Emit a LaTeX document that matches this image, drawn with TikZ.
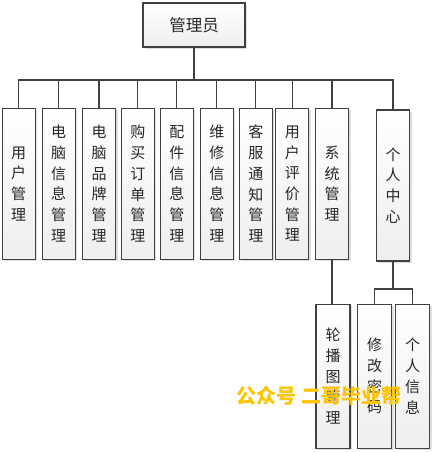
\documentclass[tikz,border=0pt]{standalone}
\usepackage{fontspec}
\setmainfont{Noto Sans CJK SC}
\usepackage{tikz}
\usetikzlibrary{calc, positioning, shadows}
\definecolor{boxLine}{HTML}{404040}
\definecolor{markGold}{HTML}{FFC400}

\begin{document}
\begin{tikzpicture}[
    x=1pt, y=-1pt,
    box/.style={draw=boxLine, line width=1.2pt, top color=white, bottom color=gray!13,
      drop shadow={shadow xshift=2pt, shadow yshift=-2pt, fill=gray!35, opacity=0.7},
      inner sep=0pt, align=center, font=\fontsize{15}{20.7}\selectfont, text=black!85},
    colbox/.style={box, minimum width=33pt, minimum height=151pt},
    subbox/.style={box, minimum width=34pt, minimum height=144pt},
    link/.style={draw=boxLine, line width=1.1pt}
  ]
    \useasboundingbox (0,0) rectangle (433,453);

    \node[box, minimum width=102pt, minimum height=44pt, font=\fontsize{16.5}{20}\selectfont] (admin) at (194,25) {管理员};

    % first level
    \node[colbox] (user)    at (18.7,183.7)  {用\\户\\管\\理};
    \node[colbox] (pc)      at (58.7,183.7)  {电\\脑\\信\\息\\管\\理};
    \node[colbox] (brand)   at (99,183.7)    {电\\脑\\品\\牌\\管\\理};
    \node[colbox] (order)   at (137.8,183.7) {购\\买\\订\\单\\管\\理};
    \node[colbox] (parts)   at (176.8,183.7) {配\\件\\信\\息\\管\\理};
    \node[colbox] (repair)  at (216.8,183.7) {维\\修\\信\\息\\管\\理};
    \node[colbox] (notice)  at (255.8,183.7) {客\\服\\通\\知\\管\\理};
    \node[colbox] (review)  at (292.3,183.7) {用\\户\\评\\价\\管\\理};
    \node[colbox] (sys)     at (332,183.7)   {系\\统\\管\\理};
    \node[colbox] (center)  at (393,185.5)   {个\\人\\中\\心};

    % second level
    \node[subbox] (carousel) at (333,376.2)   {轮\\播\\图\\管\\理};
    \node[subbox] (pwd)      at (374.5,376.2) {修\\改\\密\\码};
    \node[subbox] (info)     at (412.5,376.2) {个\\人\\信\\息};

    \coordinate (bus) at (194,80);
    \coordinate (pbus) at (393,289);

    \draw[link] (admin.south) -- (bus);
    \draw[link] (bus) -| (user.north);
    \draw[link] (bus) -| (pc.north);
    \draw[link] (bus) -| (brand.north);
    \draw[link] (bus) -| (order.north);
    \draw[link] (bus) -| (parts.north);
    \draw[link] (bus) -| (repair.north);
    \draw[link] (bus) -| (notice.north);
    \draw[link] (bus) -| (review.north);
    \draw[link] (bus) -| (sys.north);
    \draw[link] (bus) -| (center.north);

    \draw[link] (sys.south) -- (sys.south |- carousel.north);
    \draw[link] (center.south) -- (pbus);
    \draw[link] (pbus) -| (pwd.north);
    \draw[link] (pbus) -| (info.north);

    \node[font=\fontsize{20}{20}\bfseries, text=markGold, inner sep=0pt] (mark) at (319,396) {公众号 二哥毕业帮};
\end{tikzpicture}
\end{document}
